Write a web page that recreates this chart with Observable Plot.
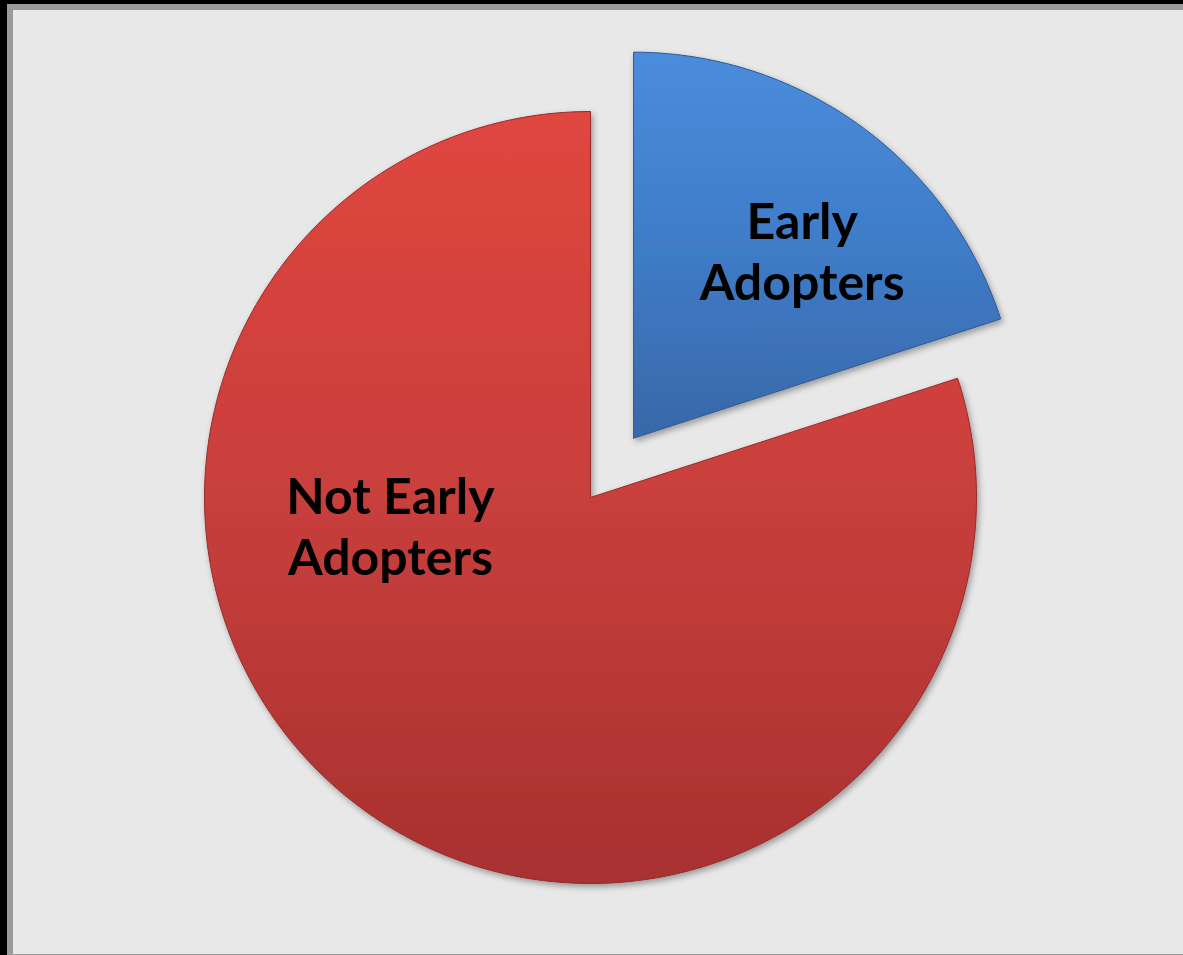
<!DOCTYPE html>
<html>
<head>
<meta charset="utf-8">
<script src="https://cdn.jsdelivr.net/npm/d3@7"></script>
<script src="https://cdn.jsdelivr.net/npm/@observablehq/plot@0.6"></script>
<style>
  html, body { margin: 0; padding: 0; }
  body { width: 1183px; height: 955px; position: relative; overflow: hidden; background: #000; }
  #frame { position: absolute; left: 7px; top: 4px; right: 0; bottom: 0;
           background: #e8e8e8; border-left: 6px solid #9a9a9a; border-top: 6px solid #9a9a9a;
           border-bottom: 1px solid #9a9a9a; box-sizing: border-box; }
  #chart { position: absolute; left: 0; top: 0; }
</style>
</head>
<body>
<div id="frame"></div>
<div id="chart"></div>
<script>
// ---- data ----
const categories = ["Early Adopters", "Not Early Adopters"];
const shares = [20, 80];
const labels = ["Early\nAdopters", "Not Early\nAdopters"];

// ---- layout / style (not data) ----
const explode = [0.19, 0];                         // offset in radius units
const labelPlacement = [{angle: 41.8, r: 0.655}, {angle: 262.3, r: 0.523}];
const gradients = [
  {id: "gBlue", stops: ["#4a8ddc", "#3f7cc8", "#3868a8"], edge: "#30598f"},
  {id: "gRed",  stops: ["#e0463f", "#c83f3c", "#a83030"], edge: "#952a2a"}
];

const rows = categories.map((c, i) => ({category: c, share: shares[i], label: labels[i], i}));
const arcs = d3.pie().sort(null).value(d => d.share)(rows);

const toRad = Math.PI / 180;
const slices = arcs.map((a, i) => {
  const mid = (a.startAngle + a.endAngle) / 2;
  const ox = explode[i] * Math.sin(mid), oy = explode[i] * Math.cos(mid);
  const pts = [{x: ox, y: oy}];
  const n = Math.max(8, Math.ceil((a.endAngle - a.startAngle) / toRad));
  for (let k = 0; k <= n; k++) {
    const t = a.startAngle + (a.endAngle - a.startAngle) * k / n;
    pts.push({x: ox + Math.sin(t), y: oy + Math.cos(t)});
  }
  pts.push({x: ox, y: oy});
  const lp = labelPlacement[i];
  const label = {x: ox + lp.r * Math.sin(lp.angle * toRad), y: oy + lp.r * Math.cos(lp.angle * toRad), text: a.data.label};
  return {pts, label, grad: gradients[i]};
});

const defs = () => {
  const d = d3.create("svg:defs");
  for (const g of gradients) {
    const lg = d.append("linearGradient").attr("id", g.id).attr("x1", 0).attr("y1", 0).attr("x2", 0).attr("y2", 1);
    g.stops.forEach((c, k) => lg.append("stop").attr("offset", k / (g.stops.length - 1)).attr("stop-color", c));
  }
  const f = d.append("filter").attr("id", "shadow").attr("x", "-10%").attr("y", "-10%").attr("width", "130%").attr("height", "130%");
  f.append("feDropShadow").attr("dx", 2).attr("dy", 3).attr("stdDeviation", 3).attr("flood-color", "#000").attr("flood-opacity", 0.35);
  return d.node();
};

const marks = [defs];
slices.forEach(s => {
  marks.push(Plot.line(s.pts, {x: "x", y: "y", fill: `url(#${s.grad.id})`, stroke: s.grad.edge, strokeWidth: 1, strokeLinejoin: "round"}));
});
marks.push(Plot.text(slices.map(s => s.label), {
  x: "x", y: "y", text: "text", fill: "black", fontSize: 50, fontWeight: "bold",
  fontFamily: "Lato", lineHeight: 1.22
}));

const chart = Plot.plot({
  width: 1183, height: 955, margin: 0,
  style: {background: "transparent", overflow: "visible"},
  x: {domain: [-1, 1], range: [204, 976], axis: null},
  y: {domain: [-1, 1], range: [883, 111], axis: null},
  marks
});
d3.select(chart).selectAll("g[aria-label='line']").attr("filter", "url(#shadow)");
document.getElementById("chart").appendChild(chart);
</script>
</body>
</html>
